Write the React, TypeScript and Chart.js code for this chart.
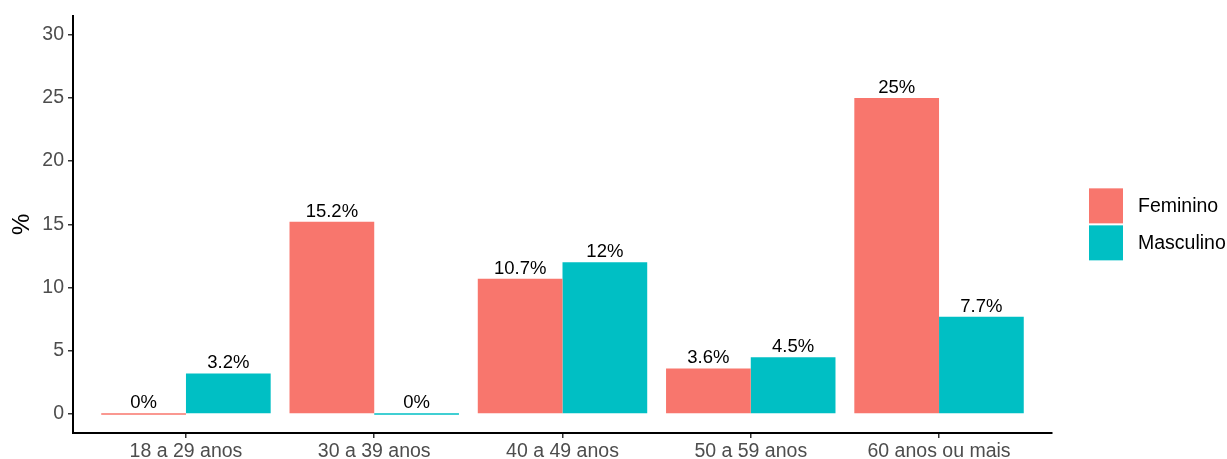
import React, { useEffect, useRef } from "react";
import { Chart, registerables } from "chart.js";

Chart.register(...registerables);

const categories = ["18 a 29 anos", "30 a 39 anos", "40 a 49 anos", "50 a 59 anos", "60 anos ou mais"];
const seriesNames = ["Feminino", "Masculino"];
const feminino = [0, 15.2, 10.7, 3.6, 25];
const masculino = [3.2, 0, 12, 4.5, 7.7];
const yTicks = [0, 5, 10, 15, 20, 25, 30];
const colors = ["#F8766D", "#00BFC4"];

const FONT = "'Liberation Sans', Arial, sans-serif";

const labelPlugin = {
  id: "barLabels",
  afterDatasetsDraw(chart: any) {
    const ctx = chart.ctx;
    ctx.save();
    ctx.font = `18.5px ${FONT}`;
    ctx.fillStyle = "#000000";
    ctx.textAlign = "center";
    ctx.textBaseline = "bottom";
    chart.data.datasets.forEach((ds: any, di: number) => {
      const meta = chart.getDatasetMeta(di);
      meta.data.forEach((el: any, i: number) => {
        const v = ds.data[i].y;
        ctx.fillText(`${v}%`, el.x, Math.min(el.y, el.base) - 1);
      });
    });
    ctx.restore();
  },
};

const legendPlugin = {
  id: "customLegend",
  afterDraw(chart: any) {
    const ctx = chart.ctx;
    const ca = chart.chartArea;
    const x0 = ca.right + 37;
    const yMid = (ca.top + ca.bottom) / 2;
    const size = 35;
    const gap = 2;
    const total = seriesNames.length * size + (seriesNames.length - 1) * gap;
    let y = yMid - total / 2;
    ctx.save();
    ctx.font = `19.5px ${FONT}`;
    ctx.textBaseline = "middle";
    ctx.textAlign = "left";
    seriesNames.forEach((name, i) => {
      ctx.fillStyle = colors[i];
      ctx.fillRect(x0, y, size - 1, size);
      ctx.fillStyle = "#000000";
      ctx.fillText(name, x0 + size + 14, y + size / 2 + 1);
      y += size + gap;
    });
    ctx.restore();
  },
};

export default function App() {
  const ref = useRef<HTMLCanvasElement | null>(null);
  useEffect(() => {
    if (!ref.current) return;
    const chart = new Chart(ref.current, {
      type: "bar",
      data: {
        datasets: [
          {
            label: seriesNames[0],
            data: feminino.map((v, i) => ({ x: i + 1, y: v })),
            backgroundColor: colors[0],
            minBarLength: 1.5,
          },
          {
            label: seriesNames[1],
            data: masculino.map((v, i) => ({ x: i + 1, y: v })),
            backgroundColor: colors[1],
            minBarLength: 1.5,
          },
        ],
      },
      plugins: [labelPlugin, legendPlugin],
      options: {
        animation: false,
        responsive: false,
        maintainAspectRatio: false,
        devicePixelRatio: 1,
        layout: { padding: { top: 15, right: 175, left: 0, bottom: 0 } },
        datasets: { bar: { categoryPercentage: 0.9, barPercentage: 1.0 } },
        plugins: { legend: { display: false }, tooltip: { enabled: false } },
        scales: {
          x: {
            type: "linear",
            min: 0.4,
            max: 5.6,
            offset: false,
            afterBuildTicks: (s: any) => {
              s.ticks = categories.map((_, i) => ({ value: i + 1 }));
            },
            afterFit: (s: any) => {
              s.height = 26;
            },
            ticks: {
              autoSkip: false,
              maxRotation: 0,
              padding: 2,
              color: "#4D4D4D",
              font: { family: FONT, size: 19.5 },
              callback: (v: any) => categories[Math.round(Number(v)) - 1] ?? "",
            },
            grid: {
              display: true,
              offset: false,
              drawOnChartArea: false,
              drawTicks: true,
              tickLength: 5,
              color: "#333333",
              lineWidth: 1.5,
            },
            border: { display: true, color: "#000000", width: 2 },
          },
          y: {
            type: "linear",
            min: -1.5,
            max: 31.5,
            afterBuildTicks: (s: any) => {
              s.ticks = yTicks.map((v) => ({ value: v }));
            },
            afterFit: (s: any) => {
              s.width = 73;
            },
            ticks: {
              padding: 4,
              color: "#4D4D4D",
              font: { family: FONT, size: 19.5 },
            },
            grid: {
              display: true,
              drawOnChartArea: false,
              drawTicks: true,
              tickLength: 5,
              color: "#333333",
              lineWidth: 1.5,
            },
            border: { display: true, color: "#000000", width: 2 },
            title: {
              display: true,
              text: "%",
              color: "#000000",
              font: { family: FONT, size: 24 },
              padding: { top: 8, bottom: 0 },
            },
          },
        },
      },
    });
    return () => chart.destroy();
  }, []);
  return (
    <div style={{ position: "absolute", left: 0, top: 0, width: 1227, height: 459, background: "#fff" }}>
      <canvas ref={ref} width={1227} height={459} style={{ width: 1227, height: 459 }} />
    </div>
  );
}
